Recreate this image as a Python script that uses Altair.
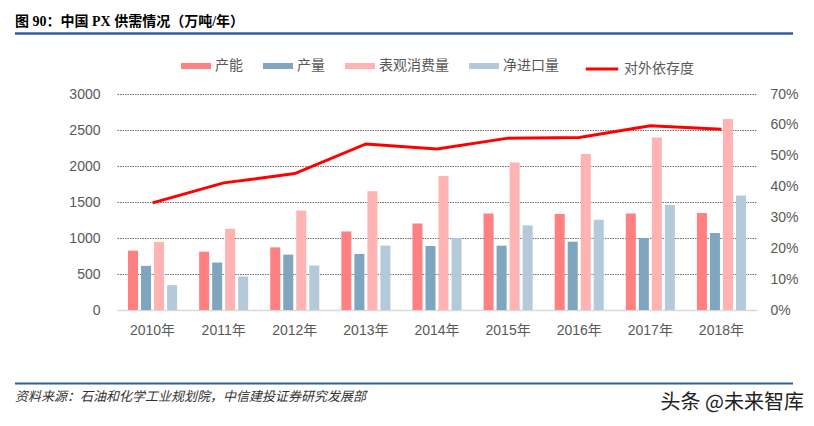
import altair as alt
import pandas as pd

# ---- data ----
years = ["2010年", "2011年", "2012年", "2013年", "2014年", "2015年", "2016年", "2017年", "2018年"]
capacity = [825, 811, 870, 1091, 1202, 1342, 1333, 1342, 1347]        # 产能
output = [613, 659, 769, 779, 889, 893, 949, 1000, 1069]              # 产量
consumption = [945, 1128, 1381, 1649, 1861, 2050, 2167, 2397, 2653]   # 表观消费量
net_import = [345, 465, 617, 894, 1000, 1175, 1254, 1458, 1592]       # 净进口量
dependency = [0.347, 0.412, 0.442, 0.538, 0.522, 0.557, 0.559, 0.597, 0.586]  # 对外依存度

bar_series = ["产能", "产量", "表观消费量", "净进口量"]
bar_colors = ["#FF8080", "#7FA5BF", "#FFB3B3", "#B4CADB"]
line_series = ["对外依存度"]
line_colors = ["#FF0000"]

title_text = "图 90：中国 PX 供需情况（万吨/年）"
source_text = "资料来源：石油和化学工业规划院，中信建投证券研究发展部"
mark_text_wm = "头条 @未来智库"

# ---- tables ----
rows = []
for name, vals in zip(bar_series, [capacity, output, consumption, net_import]):
    for y, v in zip(years, vals):
        rows.append({"year": y, "series": name, "value": v})
bars_df = pd.DataFrame(rows)
line_df = pd.DataFrame({"year": years, "dep": dependency, "lseries": line_series[0]})

FONT = "Liberation Sans, Noto Sans CJK SC, sans-serif"
LABEL = "#595959"

x_enc = alt.X(
    "year:N", sort=years,
    scale=alt.Scale(paddingInner=0.31, paddingOuter=0.155),
    axis=alt.Axis(title=None, labelAngle=0, labelFontSize=14, labelColor=LABEL,
                  labelFont=FONT, ticks=False, domainColor="#D9D9D9",
                  domainWidth=1.5, labelPadding=13, grid=False),
)

bars = alt.Chart(bars_df).mark_bar().encode(
    x=x_enc,
    xOffset=alt.XOffset("series:N", sort=bar_series,
                        scale=alt.Scale(paddingInner=0.23, paddingOuter=0)),
    y=alt.Y("value:Q", scale=alt.Scale(domain=[0, 3000]),
            axis=alt.Axis(title=None, values=[0, 500, 1000, 1500, 2000, 2500, 3000],
                          format="d", grid=True,
                          gridColor={"condition": {"test": "datum.value === 0", "value": "transparent"},
                                     "value": "#6F6F6F"},
                          gridDash=[1.5, 1], gridWidth=1,
                          ticks=False, domain=False, labelFontSize=14,
                          labelColor=LABEL, labelFont=FONT, labelPadding=17)),
    color=alt.Color(
        "series:N",
        scale=alt.Scale(domain=bar_series, range=bar_colors),
        legend=alt.Legend(
            title=None, orient="none", legendX=64, legendY=-43,
            direction="horizontal", columns=4,
            symbolType="M-1,-0.2H1V0.2H-1Z", symbolSize=900, symbolStrokeWidth=0,
            labelFontSize=14, labelColor=LABEL, labelFont=FONT,
            labelOffset=4, columnPadding=20,
        ),
    ),
)

line = alt.Chart(line_df).mark_line(strokeWidth=3).encode(
    x=alt.X("year:N", sort=years),
    y=alt.Y("dep:Q", scale=alt.Scale(domain=[0, 0.7]),
            axis=alt.Axis(title=None, orient="right", format=".0%",
                          values=[0, 0.1, 0.2, 0.3, 0.4, 0.5, 0.6, 0.7],
                          grid=False, ticks=False, domain=False, labelFontSize=14,
                          labelColor=LABEL, labelFont=FONT, labelPadding=13)),
    stroke=alt.Stroke(
        "lseries:N",
        scale=alt.Scale(domain=line_series, range=line_colors),
        legend=alt.Legend(
            title=None, orient="none", legendX=467, legendY=-43,
            direction="horizontal",
            symbolType="M-1,0H1", symbolSize=1050, symbolStrokeWidth=3,
            labelFontSize=14, labelColor=LABEL, labelFont=FONT, labelOffset=4,
        ),
    ),
)

one = pd.DataFrame({"t": [0]})

title_mark = alt.Chart(one).mark_text(
    text=title_text, align="left", baseline="middle", fontSize=14, fontWeight="bold",
    font="Liberation Serif, Noto Sans CJK SC, serif", color="#000000",
).encode(x=alt.value(-102), y=alt.value(-72.5))

top_rule = alt.Chart(one).mark_rule(color="#2F5E9B", strokeWidth=2.3).encode(
    x=alt.value(-102), x2=alt.value(676), y=alt.value(-60.5))

bottom_rule = alt.Chart(one).mark_rule(color="#2F5E9B", strokeWidth=2).encode(
    x=alt.value(-102), x2=alt.value(676), y=alt.value(289.5))

source_mark = alt.Chart(one).mark_text(
    text=source_text, align="left", baseline="middle", fontSize=13, fontStyle="italic",
    font="Noto Sans CJK SC, serif", color="#333333",
).encode(x=alt.value(-102), y=alt.value(302.5))

wm_mark = alt.Chart(one).mark_text(
    text=mark_text_wm, align="right", baseline="middle", fontSize=20,
    font="Noto Sans CJK SC, sans-serif", color="#222222",
).encode(x=alt.value(687), y=alt.value(309))

chart = alt.layer(
    bars, line, title_mark, top_rule, bottom_rule, source_mark, wm_mark
).resolve_scale(y="independent").properties(
    width=640, height=216,
    padding={"left": 109, "top": 86, "right": 48, "bottom": 104},
    autosize=alt.AutoSizeParams(type="none"),
    background="#FFFFFF",
).configure_view(stroke=None)

chart.save("out.html", embed_options={"renderer": "svg", "actions": False})
